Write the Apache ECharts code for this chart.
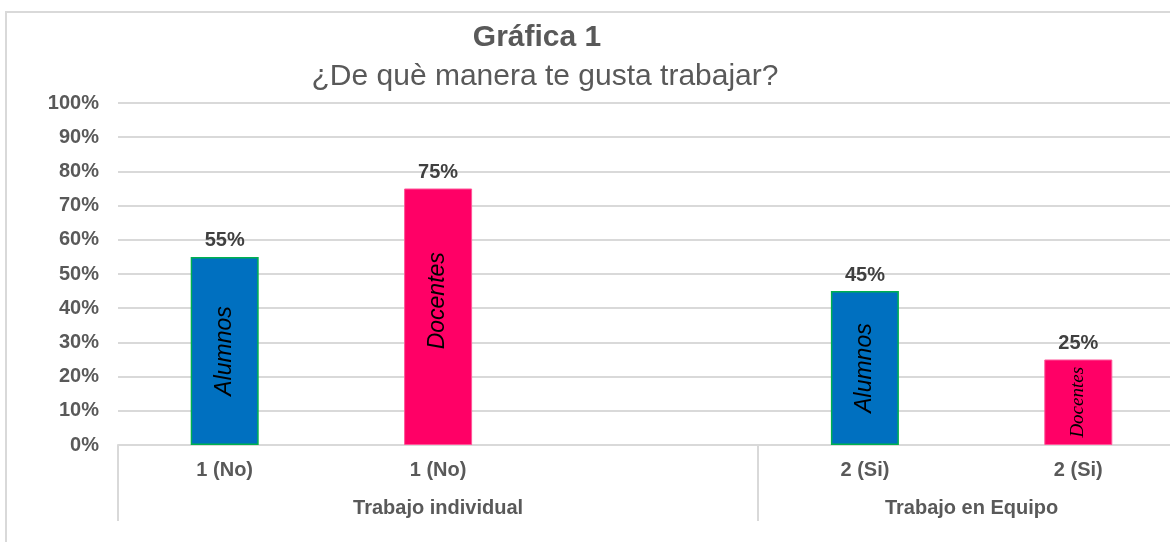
<!DOCTYPE html>
<html>
<head>
<meta charset="utf-8">
<script src="https://cdn.jsdelivr.net/npm/echarts@6/dist/echarts.min.js"></script>
<style>
    html, body { margin: 0; padding: 0; background: #fff; overflow: hidden; }
    #chart { width: 1200px; height: 542px; }
</style>
</head>
<body>
<div id="chart"></div>
<script>
// datos de la gráfica
var categories = ['1 (No)', '1 (No)', '', '2 (Si)', '2 (Si)'];
var groups = ['Trabajo individual', 'Trabajo en Equipo'];
var groupBounds = [0, 3, 5];
var alumnos = [55, '-', '-', 45, '-'];
var docentes = ['-', 75, '-', '-', 25];

(function() {
    var myChart = echarts.init(document.getElementById('chart'));
    var gray = '#595959';
    var font = 'Liberation Sans, Arial, sans-serif';

    // etiqueta girada dentro de la barra
    function tag(name, extra) {
        return Object.assign({
            show: true,
            position: 'inside',
            rotate: 90,
            formatter: name,
            color: '#000',
            fontStyle: 'italic',
            fontFamily: font,
            fontSize: 23
        }, extra || {});
    }

    var valueLabel = {
        show: true,
        position: 'top',
        distance: 6,
        formatter: '{c}%',
        color: '#404040',
        fontWeight: 'bold',
        fontFamily: font,
        fontSize: 20
    };

    var option = {
        animation: false,
        title: [{
            text: 'Gráfica 1',
            left: 532,
            top: 18,
            textAlign: 'center',
            textStyle: { color: gray, fontSize: 30, fontWeight: 'bold', fontFamily: font }
        }, {
            text: '¿De què manera te gusta trabajar?',
            left: 540,
            top: 57,
            textAlign: 'center',
            textStyle: { color: gray, fontSize: 30, fontWeight: 'normal', fontFamily: font }
        }],
        graphic: [{
            type: 'rect',
            shape: { x: 6, y: 12, width: 1300, height: 700 },
            style: { fill: 'none', stroke: '#d9d9d9', lineWidth: 2 },
            silent: true
        }],
        grid: { left: 118, top: 103, bottom: 97, right: 15 },
        xAxis: [{
            type: 'category',
            data: categories,
            axisLine: { lineStyle: { color: '#d9d9d9', width: 2 } },
            axisTick: { show: false },
            axisLabel: {
                color: gray, fontWeight: 'bold', fontSize: 20, fontFamily: font,
                margin: 15, interval: 0
            }
        }, {
            type: 'value',
            min: 0,
            max: categories.length,
            position: 'bottom',
            splitLine: { show: false },
            axisLine: { show: false },
            axisTick: {
                show: true,
                customValues: groupBounds,
                length: 76,
                lineStyle: { color: '#d9d9d9', width: 2 }
            },
            axisLabel: {
                customValues: [1.5, 4],
                formatter: function(v) { return v < groupBounds[1] ? groups[0] : groups[1]; },
                color: gray, fontWeight: 'bold', fontSize: 20, fontFamily: font,
                margin: 53
            }
        }],
        yAxis: {
            type: 'value',
            min: 0,
            max: 100,
            interval: 10,
            axisLine: { show: false },
            axisTick: { show: false },
            splitLine: { lineStyle: { color: '#d9d9d9', width: 2 } },
            axisLabel: {
                formatter: '{value}%',
                color: gray, fontWeight: 'bold', fontSize: 20, fontFamily: font,
                margin: 19
            }
        },
        series: [{
            name: 'Alumnos',
            type: 'bar',
            data: alumnos,
            barWidth: 68,
            barGap: '-100%',
            itemStyle: { color: '#0070c0', borderColor: '#00b050', borderWidth: 1.5 },
            label: valueLabel
        }, {
            name: 'Docentes',
            type: 'bar',
            data: docentes,
            barWidth: 68,
            barGap: '-100%',
            itemStyle: { color: '#ff0066', borderColor: '#ff5599', borderWidth: 1 },
            label: valueLabel
        }, {
            name: 'AlumnosTag',
            type: 'bar',
            data: alumnos,
            barWidth: 68,
            barGap: '-100%',
            itemStyle: { color: 'rgba(0,0,0,0)' },
            label: tag('Alumnos')
        }, {
            name: 'DocentesTag',
            type: 'bar',
            data: docentes.map(function(v) {
                if (v === '-') return v;
                if (v < 50) {
                    return { value: v, label: tag('Docentes', { fontFamily: 'Liberation Serif, serif', fontSize: 19 }) };
                }
                return { value: v, label: tag('Docentes', { offset: [16, 0] }) };
            }),
            barWidth: 68,
            barGap: '-100%',
            itemStyle: { color: 'rgba(0,0,0,0)' },
            label: tag('Docentes')
        }]
    };
    myChart.setOption(option);
})();
</script>
</body>
</html>
